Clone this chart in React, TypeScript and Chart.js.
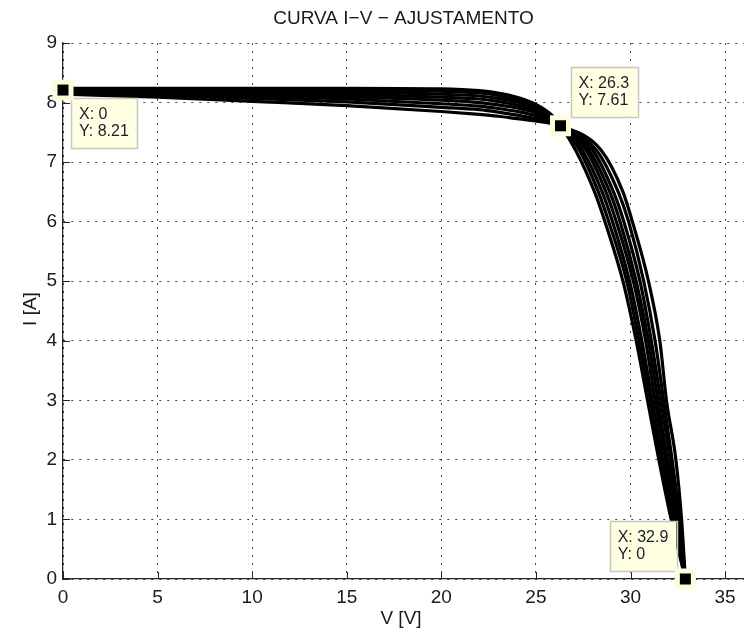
import React, { useEffect, useRef } from "react";
import { Chart, registerables } from "chart.js";

Chart.register(...registerables);

// ---- data ----
const titleText = "CURVA I\u2212V \u2212 AJUSTAMENTO";
const xLabel = "V [V]";
const yLabel = "I [A]";

// voltage grid for the flat (current-source) part of every curve
const voltageFlat = [0, 5, 10, 15, 20, 22, 23, 24, 25, 25.8, 26.3];
const currentFlat1 = [8.24, 8.24, 8.24, 8.24, 8.23, 8.2, 8.16, 8.09, 7.97, 7.8, 7.61];
const currentFlat2 = [8.23, 8.23, 8.22, 8.21, 8.19, 8.16, 8.12, 8.05, 7.94, 7.78, 7.61];
const currentFlat3 = [8.22, 8.21, 8.2, 8.18, 8.14, 8.11, 8.07, 8.01, 7.91, 7.76, 7.61];
const currentFlat4 = [8.21, 8.2, 8.17, 8.14, 8.09, 8.06, 8.02, 7.96, 7.87, 7.74, 7.61];
const currentFlat5 = [8.2, 8.18, 8.14, 8.1, 8.04, 8.0, 7.96, 7.91, 7.83, 7.72, 7.61];
const currentFlat6 = [8.18, 8.15, 8.11, 8.06, 7.98, 7.94, 7.9, 7.85, 7.78, 7.69, 7.61];
const currentFlat7 = [8.16, 8.12, 8.07, 8.01, 7.92, 7.88, 7.84, 7.79, 7.73, 7.67, 7.61];
const currentFlat8 = [8.14, 8.09, 8.02, 7.95, 7.85, 7.8, 7.77, 7.73, 7.69, 7.65, 7.61];

// current grid for the falling (voltage-source) part of every curve
const currentDrop = [7.2, 6.5, 6.0, 5.0, 4.0, 3.0, 2.0, 1.0, 0];
const voltageDrop1 = [27.1, 28.1, 28.65, 29.6, 30.3, 30.9, 31.5, 32.15, 32.9];
const voltageDrop2 = [27.3, 28.3, 28.85, 29.8, 30.45, 31.05, 31.6, 32.2, 32.9];
const voltageDrop3 = [27.45, 28.5, 29.05, 29.95, 30.6, 31.15, 31.7, 32.3, 32.9];
const voltageDrop4 = [27.65, 28.7, 29.25, 30.15, 30.8, 31.3, 31.85, 32.35, 32.9];
const voltageDrop5 = [27.8, 28.9, 29.45, 30.3, 30.95, 31.45, 31.95, 32.45, 32.9];
const voltageDrop6 = [28.0, 29.1, 29.65, 30.5, 31.1, 31.6, 32.1, 32.5, 32.9];
const voltageDrop7 = [28.2, 29.35, 29.9, 30.7, 31.3, 31.75, 32.2, 32.6, 32.9];
const voltageDrop8 = [28.45, 29.6, 30.1, 30.95, 31.55, 31.9, 32.4, 32.7, 32.9];

const flatSets = [currentFlat1, currentFlat2, currentFlat3, currentFlat4, currentFlat5, currentFlat6, currentFlat7, currentFlat8];
const dropSets = [voltageDrop1, voltageDrop2, voltageDrop3, voltageDrop4, voltageDrop5, voltageDrop6, voltageDrop7, voltageDrop8];

const xTickValues = [0, 5, 10, 15, 20, 25, 30, 35];
const yTickValues = [0, 1, 2, 3, 4, 5, 6, 7, 8, 9];
const xMin = 0;
const xMax = 36;
const yMin = 0;
const yMax = 9;

// data tips
const tipV = [0, 26.3, 32.9];
const tipI = [8.21, 7.61, 0];
const tipTextX = ["X: 0", "X: 26.3", "X: 32.9"];
const tipTextY = ["Y: 8.21", "Y: 7.61", "Y: 0"];

const FONT = "'Liberation Sans', Arial, Helvetica, sans-serif";

export default function App() {
  const ref = useRef<HTMLCanvasElement | null>(null);

  useEffect(() => {
    const canvas = ref.current;
    if (!canvas) return;

    const datasets = flatSets.map((flat, k) => ({
      data: [
        ...voltageFlat.map((v, i) => ({ x: v, y: flat[i] })),
        ...currentDrop.map((c, i) => ({ x: dropSets[k][i], y: c })),
      ],
      borderColor: "#000000",
      borderWidth: 3.2,
      pointRadius: 0,
      fill: false,
      cubicInterpolationMode: "monotone" as const,
    }));

    const decor = {
      id: "decor",
      beforeDatasetsDraw(chart: any) {
        const { ctx, chartArea, scales } = chart;
        const xs = scales.x;
        const ys = scales.y;
        ctx.save();
        ctx.strokeStyle = "#262626";
        ctx.lineWidth = 1;
        ctx.setLineDash([]);
        xTickValues.forEach((v) => {
          const px = Math.round(xs.getPixelForValue(v)) + 0.5;
          ctx.beginPath();
          ctx.moveTo(px, chartArea.bottom);
          ctx.lineTo(px, chartArea.bottom - 7);
          ctx.stroke();
        });
        yTickValues.forEach((v) => {
          const py = Math.round(ys.getPixelForValue(v)) + 0.5;
          ctx.beginPath();
          ctx.moveTo(chartArea.left, py);
          ctx.lineTo(chartArea.left + 7, py);
          ctx.stroke();
        });
        ctx.restore();
      },
      afterDatasetsDraw(chart: any) {
        const { ctx, scales } = chart;
        const xs = scales.x;
        const ys = scales.y;
        const placement = [
          { dx: 8, dy: 8, alignRight: false, above: false },
          { dx: 10, dy: -9, alignRight: false, above: true },
          { dx: -9, dy: -8, alignRight: true, above: true },
        ];
        ctx.save();
        ctx.font = `16px ${FONT}`;
        tipV.forEach((v, i) => {
          const mx = xs.getPixelForValue(v);
          const my = ys.getPixelForValue(tipI[i]);
          const p = placement[i];
          const w = Math.max(ctx.measureText(tipTextX[i]).width, ctx.measureText(tipTextY[i]).width) + 16;
          const h = 50;
          const bx = p.alignRight ? mx + p.dx - w : mx + p.dx;
          const by = p.above ? my + p.dy - h : my + p.dy;
          ctx.fillStyle = "#ffffe1";
          ctx.fillRect(bx, by, w, h);
          ctx.strokeStyle = "#c8c8c0";
          ctx.lineWidth = 1.5;
          ctx.strokeRect(Math.round(bx) + 0.5, Math.round(by) + 0.5, Math.round(w), h);
          ctx.fillStyle = "#1c1c30";
          ctx.textAlign = "left";
          ctx.textBaseline = "middle";
          ctx.fillText(tipTextX[i], bx + 8, by + 17);
          ctx.fillText(tipTextY[i], bx + 8, by + 34);
          // marker
          ctx.fillStyle = "#fdfddc";
          ctx.fillRect(mx - 10.5, my - 10.5, 21, 21);
          ctx.fillStyle = "#000000";
          ctx.fillRect(mx - 5.5, my - 5.5, 11, 11);
        });
        ctx.restore();
      },
      afterDraw(chart: any) {
        const { ctx, chartArea } = chart;
        ctx.save();
        ctx.fillStyle = "#1a1a1a";
        ctx.textAlign = "center";
        ctx.textBaseline = "middle";
        ctx.font = `19px ${FONT}`;
        ctx.fillText(titleText, (chartArea.left + chartArea.right) / 2 + 0, 19);
        ctx.fillText(xLabel, 401, 619);
        ctx.translate(31, 309);
        ctx.rotate(-Math.PI / 2);
        ctx.fillText(yLabel, 0, 0);
        ctx.restore();
      },
    };

    const chart = new Chart(canvas, {
      type: "line",
      data: { datasets },
      options: {
        animation: false,
        responsive: false,
        maintainAspectRatio: false,
        devicePixelRatio: 1,
        layout: { padding: { top: 43, left: 0, right: 0, bottom: 0 } },
        plugins: {
          legend: { display: false },
          tooltip: { enabled: false },
          title: { display: false },
        },
        scales: {
          x: {
            type: "linear",
            min: xMin,
            max: xMax,
            afterFit: (s: any) => {
              s.height = 57;
            },
            afterBuildTicks: (s: any) => {
              s.ticks = xTickValues.map((v) => ({ value: v }));
            },
            ticks: {
              autoSkip: false,
              maxRotation: 0,
              padding: 7,
              color: "#1a1a1a",
              font: { family: FONT, size: 19 },
              callback: (v: any) => String(v),
            },
            grid: {
              color: "rgba(0,0,0,0.75)",
              lineWidth: 1,
              drawTicks: false,
            },
            border: { display: true, color: "#262626", width: 1.3, dash: [2, 6] },
          },
          y: {
            type: "linear",
            min: yMin,
            max: yMax,
            afterFit: (s: any) => {
              s.width = 63;
            },
            afterBuildTicks: (s: any) => {
              s.ticks = yTickValues.map((v) => ({ value: v }));
            },
            ticks: {
              autoSkip: false,
              padding: 6,
              color: "#1a1a1a",
              font: { family: FONT, size: 19 },
              callback: (v: any) => String(v),
            },
            grid: {
              color: "rgba(0,0,0,0.75)",
              lineWidth: 1,
              drawTicks: false,
            },
            border: { display: true, color: "#262626", width: 1.3, dash: [2, 6] },
          },
        },
      },
      plugins: [decor],
    } as any);

    return () => chart.destroy();
  }, []);

  return (
    <div style={{ position: "fixed", left: 0, top: 0, width: 744, height: 636, background: "#ffffff" }}>
      <canvas ref={ref} width={744} height={636} style={{ display: "block", width: 744, height: 636 }} />
    </div>
  );
}
